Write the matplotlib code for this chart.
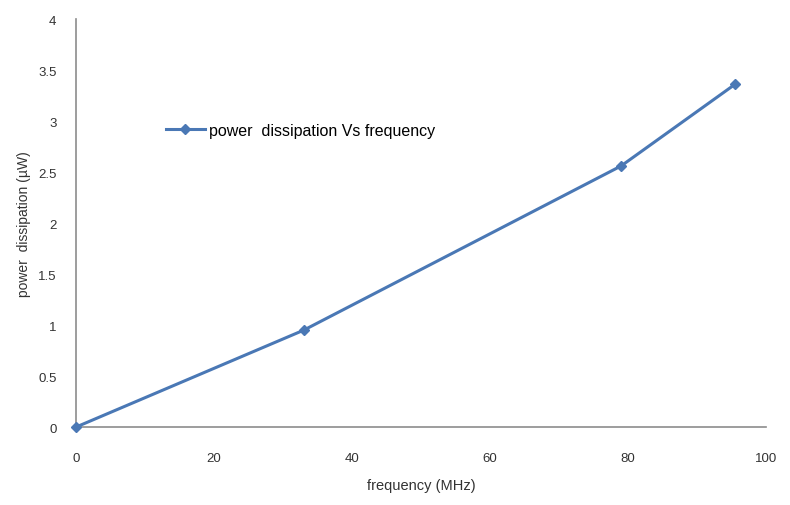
import matplotlib
matplotlib.use('Agg')
from matplotlib import pyplot as plt

# data
freq = [0, 33, 79, 95.5]
power = [0, 0.95, 2.56, 3.36]
x_ticks = [0, 20, 40, 60, 80, 100]
y_ticks = [0, 0.5, 1, 1.5, 2, 2.5, 3, 3.5, 4]
y_tick_labels = ['0', '0.5', '1', '1.5', '2', '2.5', '3', '3.5', '4']

plt.rcParams['font.family'] = 'Liberation Sans'

fig = plt.figure(figsize=(7.9, 5.06), dpi=100)
ax = fig.add_axes([0.0962, 0.154, 0.8734, 0.8063])

ax.plot(freq, power, color='#4a78b5', linewidth=2.2, marker='D', markersize=5,
        clip_on=False, zorder=3, label='power  dissipation Vs frequency')

ax.set_xlim(0, 100)
ax.set_ylim(0, 4)
ax.set_xticks(x_ticks)
ax.set_yticks(y_ticks)
ax.set_yticklabels(y_tick_labels)
ax.tick_params(axis='x', length=0, labelsize=9.5, colors='#333333', pad=18)
ax.tick_params(axis='y', length=0, labelsize=9.5, colors='#333333', pad=14)

for side in ['top', 'right']:
    ax.spines[side].set_visible(False)
for side in ['left', 'bottom']:
    ax.spines[side].set_color('#8c8c8c')
    ax.spines[side].set_linewidth(1.2)

ax.set_xlabel('frequency (MHz)', fontsize=10.5, color='#333333', labelpad=10)
ax.set_ylabel('power  dissipation (\u00b5W)', fontsize=10, color='#333333', labelpad=5)

ax.legend(loc='center left', bbox_to_anchor=(0.11, 0.728), frameon=False,
          fontsize=11.5, handlelength=2.4, handletextpad=0.3)

fig.savefig('out.png', dpi=100)
